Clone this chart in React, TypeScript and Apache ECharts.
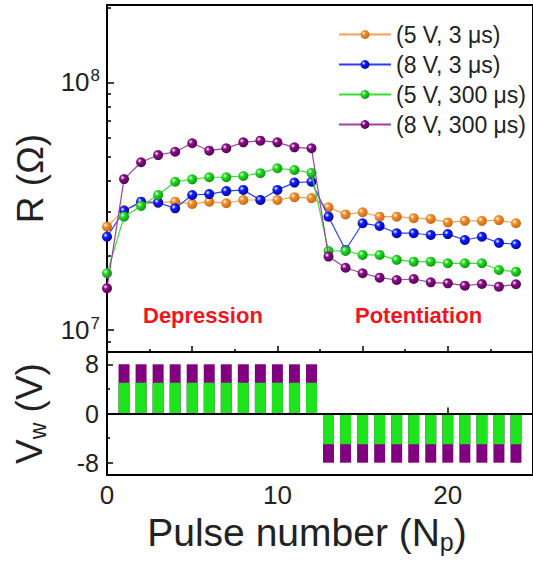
import React, { useEffect, useRef } from "react";
import * as echarts from "echarts";

// Pulse number (N_p)
const pulseNumbers = [0, 1, 2, 3, 4, 5, 6, 7, 8, 9, 10, 11, 12, 13, 14, 15, 16, 17, 18, 19, 20, 21, 22, 23, 24];

// Resistance R (Ohm) for each write condition
const r5V3us = [2.615e7, 3.05e7, 3.23e7, 3.27e7, 3.3e7, 3.23e7, 3.3e7, 3.25e7, 3.35e7, 3.35e7, 3.35e7, 3.44e7, 3.41e7,
  3.13e7, 2.93e7, 2.99e7, 2.87e7, 2.87e7, 2.83e7, 2.81e7, 2.72e7, 2.76e7, 2.76e7, 2.78e7, 2.7e7];
const r8V3us = [2.38e7, 3.03e7, 3.3e7, 3.27e7, 3.1e7, 3.51e7, 3.54e7, 3.64e7, 3.68e7, 3.35e7, 3.68e7, 3.94e7, 3.97e7,
  2.87e7, 2.105e7, 2.7e7, 2.63e7, 2.46e7, 2.46e7, 2.42e7, 2.44e7, 2.31e7, 2.38e7, 2.25e7, 2.22e7];
const r5V300us = [1.695e7, 2.87e7, 3.17e7, 3.51e7, 3.97e7, 4.06e7, 4.14e7, 4.14e7, 4.19e7, 4.3e7, 4.5e7, 4.43e7, 4.31e7,
  2.085e7, 2.085e7, 2.01e7, 2.01e7, 1.92e7, 1.888e7, 1.888e7, 1.86e7, 1.86e7, 1.86e7, 1.748e7, 1.72e7];
const r8V300us = [1.474e7, 4.07e7, 4.76e7, 5.09e7, 5.25e7, 5.68e7, 5.3e7, 5.42e7, 5.73e7, 5.82e7, 5.73e7, 5.47e7, 5.42e7,
  1.98e7, 1.785e7, 1.695e7, 1.627e7, 1.592e7, 1.607e7, 1.558e7, 1.544e7, 1.51e7, 1.534e7, 1.496e7, 1.53e7];

const seriesNames = ["(5 V, 3 \u03bcs)", "(8 V, 3 \u03bcs)", "(5 V, 300 \u03bcs)", "(8 V, 300 \u03bcs)"];

// Write pulse train
const pulseIndex = [1, 2, 3, 4, 5, 6, 7, 8, 9, 10, 11, 12, 13, 14, 15, 16, 17, 18, 19, 20, 21, 22, 23, 24];
const pulseHigh = [8, 8, 8, 8, 8, 8, 8, 8, 8, 8, 8, 8, -8, -8, -8, -8, -8, -8, -8, -8, -8, -8, -8, -8];
const pulseLow = [5, 5, 5, 5, 5, 5, 5, 5, 5, 5, 5, 5, -5, -5, -5, -5, -5, -5, -5, -5, -5, -5, -5, -5];

// Tick values
const rMajorTicks = [1e7, 1e8];
const rMinorTicks = [9e6, 2e7, 3e7, 4e7, 5e7, 6e7, 7e7, 8e7, 9e7, 2e8];
const rMin = 8.15e6;
const rMax = 2.055e8;
const vMajorTicks = [-8, 0, 8];
const vMinorTicks = [-4, 4];

const FONT = "'Liberation Sans', Arial, sans-serif";

function sphere(c: string, dark: string) {
  return new echarts.graphic.RadialGradient(0.35, 0.35, 0.75, [
    { offset: 0, color: "#ffffff" },
    { offset: 0.3, color: c },
    { offset: 1, color: dark },
  ]);
}

export default function App() {
  const ref = useRef<HTMLDivElement>(null);

  useEffect(() => {
    document.body.style.margin = "0";
    if (!ref.current) return;
    const chart = echarts.init(ref.current, undefined, { renderer: "svg" });
    const lg = (v: number) => Math.log10(v);

    const lineSeries = [
      { data: r5V3us, line: "#f5a055", c: "#f39030", d: "#c0600a" },
      { data: r8V3us, line: "#2a3cff", c: "#1020ff", d: "#00008a" },
      { data: r5V300us, line: "#33e033", c: "#22dd22", d: "#0a8a0a" },
      { data: r8V300us, line: "#a040a0", c: "#8a108a", d: "#4a004a" },
    ].map((s, i) => ({
      name: seriesNames[i],
      type: "line",
      xAxisIndex: 0,
      yAxisIndex: 0,
      data: pulseNumbers.map((n, k) => [n, lg(s.data[k])]),
      symbol: "circle",
      symbolSize: 10,
      lineStyle: { color: s.line, width: 1.2 },
      itemStyle: { color: sphere(s.c, s.d), borderWidth: 0 },
      z: 3 + i,
    }));

    const option: any = {
      animation: false,
      textStyle: { fontFamily: FONT },
      grid: [
        { left: 107, top: 5, width: 432.5, height: 347, show: true, borderColor: "#000", borderWidth: 2 },
        { left: 107, top: 352, width: 432.5, height: 123, show: true, borderColor: "#000", borderWidth: 2 },
      ],
      legend: {
        orient: "vertical",
        left: 338,
        top: 23,
        padding: 0,
        itemWidth: 52,
        itemHeight: 11,
        itemGap: 7,
        data: seriesNames,
        textStyle: { fontSize: 23, color: "#222", fontFamily: FONT, lineHeight: 23, padding: [0, 0, 0, 0] },
      },
      xAxis: [
        {
          type: "value",
          gridIndex: 0,
          min: 0,
          max: 25,
          interval: 5,
          axisLine: { lineStyle: { color: "#000", width: 2 } },
          axisTick: { inside: true, length: 6, lineStyle: { color: "#000", width: 1.5 } },
          minorTick: { show: true, splitNumber: 2, length: 3, lineStyle: { color: "#000", width: 1.5 } },
          axisLabel: { show: false },
          splitLine: { show: false },
        },
        {
          type: "value",
          gridIndex: 1,
          min: 0,
          max: 25,
          interval: 10,
          axisLine: { lineStyle: { color: "#000", width: 2 } },
          axisTick: { inside: true, length: 6, lineStyle: { color: "#000", width: 1.5 } },
          axisLabel: { fontSize: 26, color: "#222", margin: 7, showMaxLabel: false, fontFamily: FONT },
          splitLine: { show: false },
          name: "Pulse number (N{sub|p})",
          nameLocation: "middle",
          nameGap: 36,
          nameTextStyle: {
            fontSize: 39,
            color: "#222",
            fontFamily: FONT,
            padding: [0, 26, 0, 0],
            rich: { sub: { fontSize: 25, color: "#222", verticalAlign: "bottom", padding: [18, 0, 0, 0], fontFamily: FONT } },
          },
        },
      ],
      yAxis: [
        {
          type: "value",
          gridIndex: 0,
          position: "left",
          min: lg(rMin),
          max: lg(rMax),
          axisLine: { lineStyle: { color: "#000", width: 2 } },
          axisTick: { inside: true, length: 7, customValues: rMajorTicks.map(lg), lineStyle: { color: "#000", width: 1.5 } },
          axisLabel: {
            customValues: rMajorTicks.map(lg),
            margin: 7,
            fontSize: 26,
            color: "#222",
            fontFamily: FONT,
            formatter: (v: number) => "10{sup|" + Math.round(v) + "}",
            rich: {
              sup: { fontSize: 17, color: "#222", verticalAlign: "top", padding: [0, 0, 14, 1], fontFamily: FONT },
            },
          },
          splitLine: { show: false },
          name: "R (\u03a9)",
          nameLocation: "middle",
          nameGap: 58,
          nameTextStyle: { fontSize: 37, color: "#222", fontFamily: FONT },
        },
        {
          type: "value",
          gridIndex: 0,
          position: "left",
          min: lg(rMin),
          max: lg(rMax),
          axisLine: { show: false },
          axisTick: { inside: true, length: 4, customValues: rMinorTicks.map(lg), lineStyle: { color: "#000", width: 1.5 } },
          axisLabel: { show: false },
          splitLine: { show: false },
        },
        {
          type: "value",
          gridIndex: 1,
          position: "left",
          min: -10,
          max: 10,
          axisLine: { lineStyle: { color: "#000", width: 2 } },
          axisTick: { inside: true, length: 6, customValues: vMajorTicks, lineStyle: { color: "#000", width: 1.5 } },
          axisLabel: { customValues: vMajorTicks, margin: 8, fontSize: 25, color: "#222", fontFamily: FONT },
          splitLine: { show: false },
          name: "V{sub|w} (V)",
          nameLocation: "middle",
          nameGap: 58,
          nameTextStyle: {
            fontSize: 37,
            color: "#222",
            fontFamily: FONT,
            rich: { sub: { fontSize: 23, color: "#222", verticalAlign: "bottom", padding: [16, 0, 0, 0], fontFamily: FONT } },
          },
        },
        {
          type: "value",
          gridIndex: 1,
          position: "left",
          min: -10,
          max: 10,
          axisLine: { show: false },
          axisTick: { inside: true, length: 3, customValues: vMinorTicks, lineStyle: { color: "#000", width: 1.5 } },
          axisLabel: { show: false },
          splitLine: { show: false },
        },
      ],
      series: [
        ...lineSeries,
        {
          name: "pulse amplitude",
          type: "bar",
          xAxisIndex: 1,
          yAxisIndex: 2,
          barWidth: 11,
          barGap: "-100%",
          data: pulseIndex.map((n, k) => [n, pulseHigh[k]]),
          itemStyle: { color: "#800080" },
        },
        {
          name: "pulse base",
          type: "bar",
          xAxisIndex: 1,
          yAxisIndex: 2,
          barWidth: 11,
          barGap: "-100%",
          data: pulseIndex.map((n, k) => [n, pulseLow[k]]),
          itemStyle: { color: "#1ee41e" },
          markLine: {
            silent: true,
            symbol: "none",
            label: { show: false },
            lineStyle: { color: "#000", width: 2, type: "solid" },
            data: [{ yAxis: 0 }],
          },
        },
      ],
      graphic: [
        {
          type: "text",
          left: 143,
          top: 304,
          style: { text: "Depression", fontSize: 22, fontWeight: "bold", fill: "#f0141e", fontFamily: FONT },
        },
        {
          type: "text",
          left: 355,
          top: 304,
          style: { text: "Potentiation", fontSize: 22, fontWeight: "bold", fill: "#f0141e", fontFamily: FONT },
        },
      ],
    };

    chart.setOption(option);
    return () => chart.dispose();
  }, []);

  return <div ref={ref} style={{ width: 533, height: 571 }} />;
}
